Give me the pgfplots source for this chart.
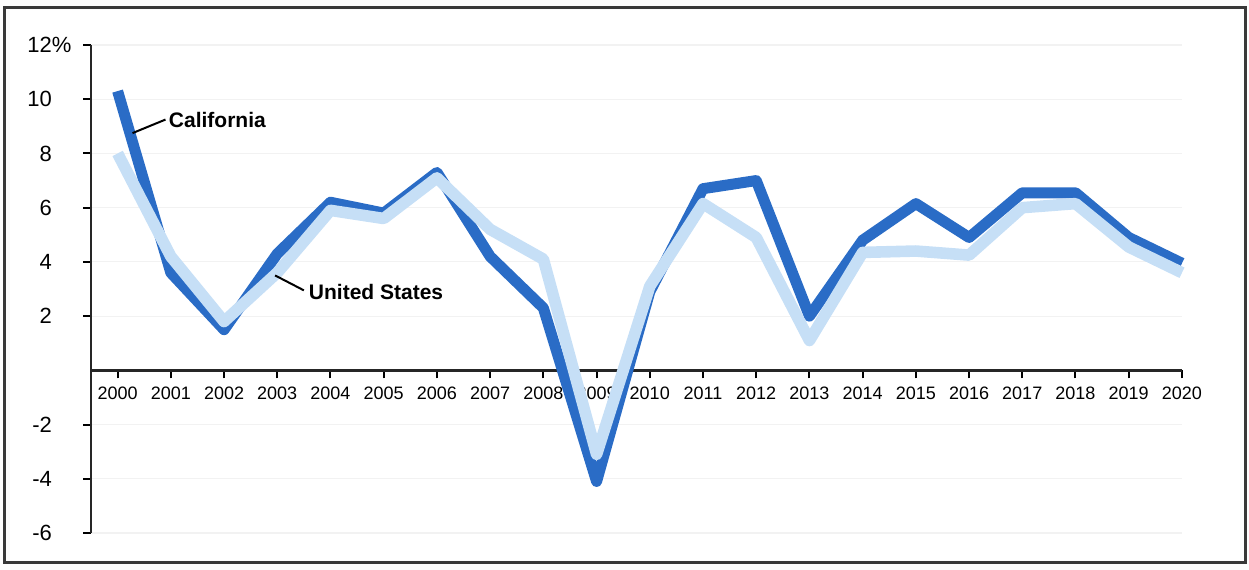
\documentclass[border=0pt]{standalone}
\usepackage{fontspec}
\setmainfont{Liberation Sans}
\usepackage{pgfplots}
\pgfplotsset{compat=1.18}
\definecolor{cablue}{HTML}{2A6CC6}
\definecolor{usblue}{HTML}{C6DFF6}
\definecolor{framegray}{HTML}{3A3A3A}
\begin{document}
\begin{tikzpicture}
\begin{axis}[
  scale only axis, width=545.5pt, height=244pt,
  xmin=1999.5, xmax=2020, ymin=-6, ymax=12,
  axis x line=middle, axis y line=left,
  axis line style={-, line width=1.4pt, black!85},
  xtick={2000,...,2020},
  ytick={-6,-4,-2,2,4,6,8,10,12},
  yticklabels={-6,-4,-2,2,4,6,8,10,12\rlap{\%}},
  tick align=outside,
  major tick length=4pt,
  tick style={line width=1pt, black},
  x tick label style={font=\fontsize{9}{10}\selectfont, /pgf/number format/1000 sep={}, yshift=-1pt},
  y tick label style={font=\fontsize{11}{12}\selectfont, xshift=-12pt},
  /pgf/number format/assume math mode=true,
  ymajorgrids, grid style={black!5, line width=0.6pt},
  clip=false,
]
% California
\addplot[cablue, line width=5.5pt, line join=round] coordinates {
 (2000,10.3) (2001,3.6) (2002,1.5) (2003,4.3) (2004,6.2) (2005,5.8)
 (2006,7.3) (2007,4.2) (2008,2.3) (2009,-4.1) (2010,2.9) (2011,6.7)
 (2012,7.0) (2013,2.0) (2014,4.8) (2015,6.15) (2016,4.9) (2017,6.55)
 (2018,6.55) (2019,4.9) (2020,3.95)};
% United States
\addplot[usblue, line width=5.8pt, line join=round] coordinates {
 (2000,8.0) (2001,4.2) (2002,1.8) (2003,3.6) (2004,5.9) (2005,5.6)
 (2006,7.1) (2007,5.2) (2008,4.1) (2009,-3.1) (2010,3.1) (2011,6.15)
 (2012,4.9) (2013,1.1) (2014,4.35) (2015,4.4) (2016,4.25) (2017,6.0)
 (2018,6.15) (2019,4.55) (2020,3.6)};
\draw[line width=1pt] (axis cs:2000.28,8.75) -- (axis cs:2000.9,9.25);
\node[anchor=west, inner sep=1pt, font=\bfseries\fontsize{10.5}{12}\selectfont] at (axis cs:2000.92,9.25) {California};
\draw[line width=1pt] (axis cs:2002.96,3.5) -- (axis cs:2003.5,2.95);
\node[anchor=west, inner sep=1pt, font=\bfseries\fontsize{10.5}{12}\selectfont] at (axis cs:2003.55,2.9) {United States};
\end{axis}
\draw[framegray, line width=1.5pt] (-43pt,-14.5pt) rectangle (577pt,262.5pt);
\path (-45.5pt,-18pt) rectangle (579pt,266.5pt);
\end{tikzpicture}
\end{document}
